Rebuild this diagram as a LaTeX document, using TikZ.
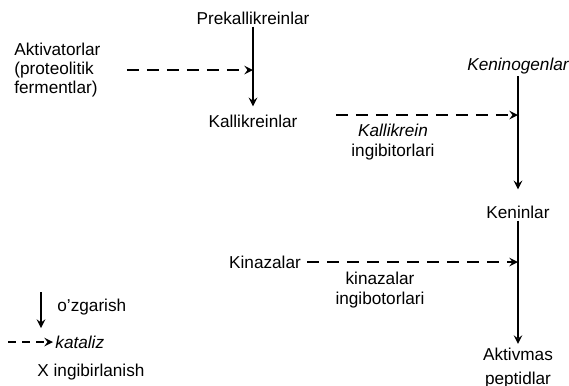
\documentclass[tikz,border=0pt]{standalone}
\usepackage{fontspec}
\setmainfont{Liberation Sans}
\usetikzlibrary{positioning}

\tikzset{
  lbl/.style={inner sep=1pt, font=\fontsize{8.6}{9.6}\selectfont},
  conv/.style={->, line width=0.9pt},
  catal/.style={->, line width=0.9pt, dash pattern=on 6pt off 4pt},
}

\begin{document}
\begin{tikzpicture}[x=0.5pt, y=-0.5pt, >=stealth]
  \useasboundingbox (0,0) rectangle (569,386);

  % main chain
  \node[lbl] (pre) at (253,18) {Prekallikreinlar};
  \node[lbl] (kal) at (253,121) {Kallikreinlar};
  \node[lbl, align=left, anchor=west] (act) at (12,70) {Aktivatorlar\\(proteolitik\\fermentlar)};

  \node[lbl] (kng) at (518,66) {\itshape Keninogenlar};
  \node[lbl] (knn) at (518,212) {Keninlar};
  \node[lbl, align=center] (akt) at (518,368) {Aktivmas\\[2pt]peptidlar};

  \node[lbl] (kin) at (265,262) {Kinazalar};

  % inhibitor labels
  \node[lbl, align=center] (kinh) at (393,142) {\itshape Kallikrein\\ingibitorlari};
  \node[lbl, align=center] (zinh) at (380,290) {kinazalar\\ingibotorlari};

  \draw[conv, shorten >=3pt] (pre) -- (kal);
  \draw[conv, shorten >=7pt] (kng) -- (knn);
  \draw[conv, shorten >=1pt] (knn) -- (akt);

  \draw[catal, shorten <=12pt] (act.east) -- (act.east -| pre.south);
  \draw[catal, shorten <=18pt] ([yshift=3pt]kal.east) -- ([yshift=3pt]kal.east -| kng.south);
  \draw[catal, shorten <=2pt] (kin.east) -- (kin.east -| kng.south);

  % legend
  \coordinate (l1a) at (41,292);
  \coordinate (l1b) at (41,328);
  \node[lbl, anchor=west] (l1) at (55,307) {o'zgarish};
  \draw[conv] (l1a) -- (l1b);

  \coordinate (l2a) at (8,342);
  \node[lbl, anchor=west] (l2) at (53,342) {\itshape kataliz};
  \draw[catal, dash pattern=on 4pt off 3pt] (l2a) -- (l2.west);

  \node[lbl, anchor=west] (l3) at (35,372) {X ingibirlanish};
\end{tikzpicture}
\end{document}
